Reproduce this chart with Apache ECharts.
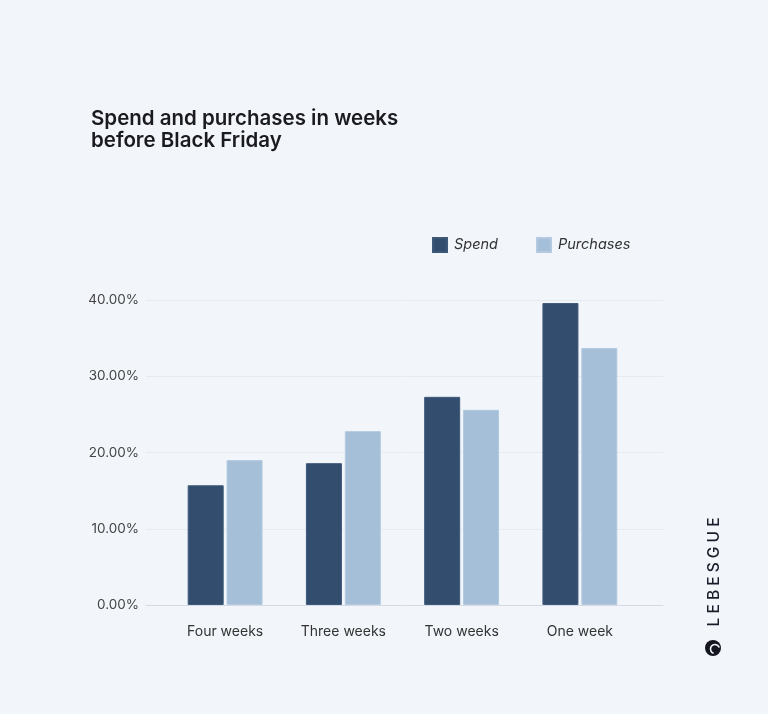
<!DOCTYPE html>
<html>
<head>
<meta charset="utf-8">
<script src="https://cdn.jsdelivr.net/npm/echarts@6/dist/echarts.min.js"></script>
<style>
html,body{margin:0;padding:0;background:#f2f6fb;}
#chart{width:768px;height:714px;}
</style>
</head>
<body>
<div id="chart"></div>
<script>
var categories = ['Four weeks', 'Three weeks', 'Two weeks', 'One week'];
var spend = [15.7, 18.6, 27.3, 39.6];
var purchases = [19.0, 22.8, 25.6, 33.7];
var yTicks = [0, 10, 20, 30, 40];

var FONT = 'Inter';
var chart = echarts.init(document.getElementById('chart'));
var yMin = yTicks[0], yMax = yTicks[yTicks.length - 1], yStep = yTicks[1] - yTicks[0];

chart.setOption({
  backgroundColor: '#f2f6fb',
  textStyle: { fontFamily: FONT },
  title: {
    text: 'Spend and purchases in weeks\nbefore Black Friday',
    left: 86, top: 103,
    textStyle: { fontFamily: FONT, fontSize: 20.5, fontWeight: 600, color: '#1b1b1f', lineHeight: 22 }
  },
  legend: {
    data: ['Spend', 'Purchases'],
    left: 427, top: 232,
    itemWidth: 14, itemHeight: 14, itemGap: 38,
    icon: 'rect',
    textStyle: { fontFamily: FONT, fontSize: 14.5, fontStyle: 'italic', color: '#333', padding: [0, 0, 0, 2] }
  },
  grid: [
    { left: 166, right: 129, top: 300, bottom: 109 },
    { left: 146, right: 105, top: 300, bottom: 109 }
  ],
  xAxis: [
    {
      type: 'category', gridIndex: 0, data: categories,
      axisLine: { show: false }, axisTick: { show: false },
      axisLabel: { margin: 20, fontFamily: FONT, fontSize: 14, color: '#333' }
    },
    {
      type: 'value', gridIndex: 1, min: 0, max: 1,
      axisLine: { show: true, lineStyle: { color: '#d3dae3', width: 1 } },
      axisTick: { show: false }, axisLabel: { show: false }, splitLine: { show: false }
    }
  ],
  yAxis: [
    {
      type: 'value', gridIndex: 0, min: yMin, max: yMax, interval: yStep,
      axisLine: { show: false }, axisTick: { show: false },
      axisLabel: { show: false }, splitLine: { show: false }
    },
    {
      type: 'value', gridIndex: 1, min: yMin, max: yMax, interval: yStep,
      axisLine: { show: false }, axisTick: { show: false },
      axisLabel: {
        margin: 7, fontFamily: FONT, fontSize: 13.5, color: '#444',
        formatter: function (v) { return v.toFixed(2) + '%'; }
      },
      splitLine: { show: true, lineStyle: { color: '#e6ebf2', width: 1 } }
    }
  ],
  series: [
    {
      name: 'Spend', type: 'bar', xAxisIndex: 0, yAxisIndex: 0,
      data: spend, barWidth: 36, barGap: '8%',
      itemStyle: { color: '#334d6e', borderColor: '#3e5878', borderWidth: 1 }
    },
    {
      name: 'Purchases', type: 'bar', xAxisIndex: 0, yAxisIndex: 0,
      data: purchases, barWidth: 36,
      itemStyle: { color: '#a6bfd8', borderColor: '#b3cae0', borderWidth: 1 }
    }
  ],
  graphic: [
    {
      type: 'text',
      x: 714, y: 572,
      rotation: Math.PI / 2,
      style: {
        text: 'L E B E S G U E',
        fontFamily: FONT, fontSize: 15.5, fontWeight: 500,
        fill: '#1b1b2a', align: 'center', verticalAlign: 'middle'
      }
    },
    {
      type: 'circle', shape: { cx: 713, cy: 648, r: 8 },
      style: { fill: '#15151f' }
    },
    {
      type: 'arc', shape: { cx: 715, cy: 649, r: 4.5, startAngle: Math.PI * 0.6, endAngle: Math.PI * 1.9 },
      style: { stroke: '#f2f6fb', lineWidth: 1.6, fill: null }
    }
  ]
});
</script>
</body>
</html>
